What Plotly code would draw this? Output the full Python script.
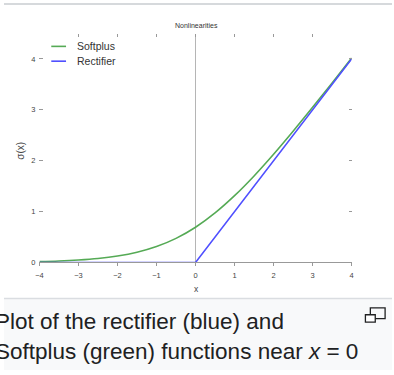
import plotly.graph_objects as go

# ---- data ----
x_soft = [-4, -3.5, -3, -2.5, -2, -1.5, -1, -0.5, 0, 0.5, 1, 1.5, 2, 2.5, 3, 3.5, 4]
y_soft = [0.018, 0.030, 0.049, 0.079, 0.127, 0.201, 0.313, 0.474, 0.693,
          0.974, 1.313, 1.701, 2.127, 2.579, 3.049, 3.530, 4.018]
x_relu = [-4, 0, 4]
y_relu = [0, 0, 4]
x_ticks = [-4, -3, -2, -1, 0, 1, 2, 3, 4]
y_ticks = [0, 1, 2, 3, 4]
series_names = ["Softplus", "Rectifier"]
title_text = "Nonlinearities"
x_label = "x"
y_label = "σ(x)"
caption_1 = "Plot of the rectifier (blue) and"
caption_2 = "Softplus (green) functions near <i>x</i> = 0"

W, H = 394, 375
GREEN = "#55aa55"
BLUE = "#5050ff"
FONT = "Liberation Sans, Arial, sans-serif"

def px(v):
    return v / W

def py(v):
    return 1 - v / H

fig = go.Figure()
fig.add_trace(go.Scatter(x=x_soft, y=y_soft, mode="lines", name=series_names[0],
                         line=dict(color=GREEN, width=1.6, shape="spline"), showlegend=False))
fig.add_trace(go.Scatter(x=x_relu, y=y_relu, mode="lines", name=series_names[1],
                         line=dict(color=BLUE, width=1.6), showlegend=False))

tickfont = dict(family=FONT, size=7.5, color="#444")

fig.update_layout(
    width=W, height=H,
    margin=dict(l=0, r=0, t=0, b=0),
    paper_bgcolor="white", plot_bgcolor="white",
    xaxis=dict(domain=[px(36), px(353)], range=[-4, 4], tickvals=x_ticks,
               ticks="outside", ticklen=3, tickcolor="#999", tickwidth=1,
               showline=True, linecolor="#999", linewidth=1,
               showgrid=False, zeroline=True, zerolinecolor="#b5b5b5", zerolinewidth=1.5,
               tickfont=tickfont, ticklabelstandoff=3, fixedrange=True),
    xaxis2=dict(domain=[px(36), px(353)], range=[-4, 4], overlaying="x", side="top",
                tickvals=x_ticks, ticks="inside", ticklen=3, tickcolor="#999",
                showticklabels=False, showgrid=False, zeroline=False, showline=False,
                anchor="y", fixedrange=True),
    yaxis=dict(domain=[py(266), py(34)], range=[0, 4.5], tickvals=y_ticks,
               ticks="inside", ticklen=4, tickcolor="#999",
               showline=False, showgrid=False, zeroline=False,
               tickfont=tickfont, ticklabelstandoff=3, fixedrange=True),
    yaxis2=dict(domain=[py(266), py(34)], range=[0, 4.5], overlaying="y", side="right",
                tickvals=y_ticks, ticks="inside", ticklen=3, tickcolor="#999",
                showticklabels=False, showgrid=False, zeroline=False, showline=False,
                anchor="x", fixedrange=True),
)
# dummy trace to activate top/right axes
fig.add_trace(go.Scatter(x=[None], y=[None], xaxis="x2", yaxis="y2", showlegend=False,
                         hoverinfo="skip"))

shapes = []
annotations = []

# top page border
shapes.append(dict(type="line", xref="paper", yref="paper", x0=0, x1=1, y0=py(4), y1=py(4),
                   line=dict(color="#c8ccd1", width=1.5)))

# title
annotations.append(dict(text=title_text, xref="paper", yref="paper", x=px(195), y=py(26),
                        xanchor="center", yanchor="middle", showarrow=False,
                        font=dict(family=FONT, size=7, color="#333")))

# axis labels
annotations.append(dict(text=x_label, xref="paper", yref="paper", x=px(195), y=py(293),
                        xanchor="center", yanchor="middle", showarrow=False,
                        font=dict(family=FONT, size=8.5, color="#444")))
annotations.append(dict(text=y_label, xref="paper", yref="paper", x=px(17), y=py(153),
                        xanchor="center", yanchor="middle", showarrow=False, textangle=-90,
                        font=dict(family=FONT, size=10, color="#444")))

# manual legend
for name, col, yy in [(series_names[0], GREEN, 47), (series_names[1], BLUE, 62)]:
    shapes.append(dict(type="line", xref="paper", yref="paper", x0=px(48), x1=px(63),
                       y0=py(yy), y1=py(yy), line=dict(color=col, width=1.6)))
    annotations.append(dict(text=name, xref="paper", yref="paper", x=px(72), y=py(yy),
                            xanchor="left", yanchor="middle", showarrow=False,
                            font=dict(family=FONT, size=10.5, color="#333")))

# caption box
shapes.append(dict(type="rect", xref="paper", yref="paper", x0=0, x1=1, y0=0, y1=py(302.5),
                   fillcolor="#f8f9fa", line=dict(width=0), layer="below"))
shapes.append(dict(type="line", xref="paper", yref="paper", x0=0, x1=1, y0=py(302.5),
                   y1=py(302.5), line=dict(color="#dadde1", width=1.5)))

capfont = dict(family=FONT, size=22.5, color="#202122")
annotations.append(dict(text=caption_1, xref="paper", yref="paper", x=px(-11), y=py(326),
                        xanchor="left", yanchor="middle", showarrow=False, font=capfont))
annotations.append(dict(text=caption_2, xref="paper", yref="paper", x=px(-11), y=py(356),
                        xanchor="left", yanchor="middle", showarrow=False, font=capfont))

# enlarge icon
shapes.append(dict(type="rect", xref="paper", yref="paper", x0=px(372), x1=px(387),
                   y0=py(323), y1=py(312), line=dict(color="#202122", width=1.3),
                   fillcolor="#f8f9fa"))
shapes.append(dict(type="rect", xref="paper", yref="paper", x0=px(367), x1=px(377),
                   y0=py(326.5), y1=py(319), line=dict(color="#202122", width=1.3),
                   fillcolor="white"))

fig.update_layout(shapes=shapes, annotations=annotations)

fig.write_html("out.html", config={"displayModeBar": False, "staticPlot": True},
               post_script="document.body.style.margin='0';")
